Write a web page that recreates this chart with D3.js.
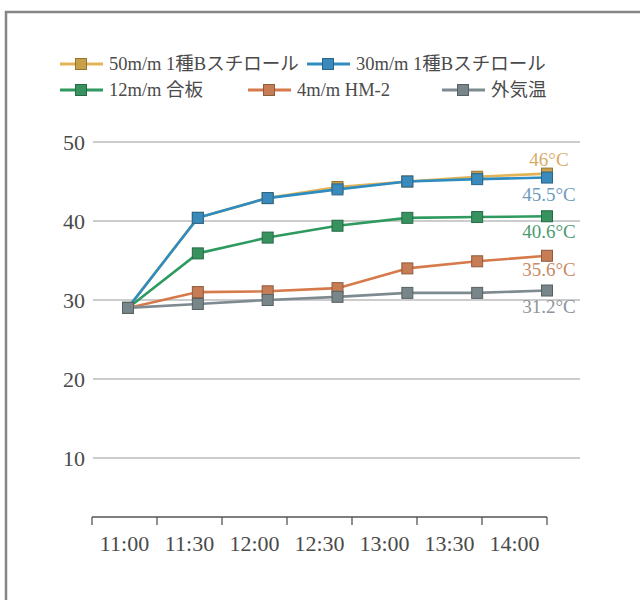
<!DOCTYPE html>
<html>
<head>
<meta charset="utf-8">
<script src="https://cdn.jsdelivr.net/npm/d3@7"></script>
<style>
  html, body { margin: 0; padding: 0; background: #fff; }
  svg { display: block; }
</style>
</head>
<body>
<svg id="chart" width="640" height="600"></svg>
<script>
// Time of day (x categories)
const times = ["11:00", "11:30", "12:00", "12:30", "13:00", "13:30", "14:00"];

// Temperature readings (°C) for each insulation material
const eps50 = [29, 40.4, 42.9, 44.3, 45.0, 45.6, 46];
const eps30 = [29, 40.4, 42.9, 44.0, 45.0, 45.3, 45.5];
const plywood12 = [29, 35.9, 37.9, 39.4, 40.4, 40.5, 40.6];
const hm4 = [29, 31.0, 31.1, 31.5, 34.0, 34.9, 35.6];
const outdoor = [29, 29.5, 30.0, 30.4, 30.9, 30.9, 31.2];

// Series names shown in the legend
const seriesNames = ["50m/m 1種Bスチロール", "30m/m 1種Bスチロール", "12m/m 合板", "4m/m HM-2", "外気温"];

// Y-axis tick values
const yTicks = [10, 20, 30, 40, 50];

const series = [
  { name: seriesNames[0], values: eps50, line: "#e3b457", mark: "#c9a04a", labelColor: "#d9ac6a", dy: -14 },
  { name: seriesNames[1], values: eps30, line: "#2f8cc0", mark: "#3a8bbb", labelColor: "#6f9cbc", dy: 17 },
  { name: seriesNames[2], values: plywood12, line: "#2e9a5f", mark: "#37925f", labelColor: "#4f9a70", dy: 15 },
  { name: seriesNames[3], values: hm4, line: "#d67a4c", mark: "#c67c54", labelColor: "#c98b66", dy: 14 },
  { name: seriesNames[4], values: outdoor, line: "#7d8b91", mark: "#788589", labelColor: "#8e9499", dy: 16 }
];

const svg = d3.select("#chart");
const serif = "'Liberation Serif', 'Noto Sans CJK JP', serif";
const textColor = "#4a4a4a";

// Outer frame
svg.append("rect")
  .attr("x", 6).attr("y", 12)
  .attr("width", 700).attr("height", 700)
  .attr("fill", "none")
  .attr("stroke", "#858585")
  .attr("stroke-width", 2.5);

// Scales
const y = d3.scaleLinear().domain([0, 50]).range([537, 142]);
const xBand = d3.scaleBand().domain(times).range([92, 547]);
const xPt = d3.scalePoint().domain(times).range([128, 547]);

// Horizontal gridlines with value labels
const grid = svg.append("g");
grid.selectAll("line").data(yTicks).join("line")
  .attr("x1", 93).attr("x2", 580)
  .attr("y1", d => y(d)).attr("y2", d => y(d))
  .attr("stroke", "#9a9a9a").attr("stroke-width", 1.2);
grid.selectAll("text").data(yTicks).join("text")
  .attr("x", 85).attr("y", d => y(d))
  .attr("dy", "0.35em")
  .attr("text-anchor", "end")
  .attr("font-family", serif)
  .attr("font-size", 22)
  .attr("fill", textColor)
  .text(d => d);

// X axis: ticks at band edges, labels centred in each band
const xAxisY = 517;
const xa = svg.append("g");
xa.append("line")
  .attr("x1", xBand.range()[0]).attr("x2", xBand.range()[1])
  .attr("y1", xAxisY).attr("y2", xAxisY)
  .attr("stroke", "#555").attr("stroke-width", 1.3);
const edges = times.map(t => xBand(t)).concat([xBand.range()[1]]);
xa.selectAll("line.tick").data(edges).join("line")
  .attr("class", "tick")
  .attr("x1", d => d).attr("x2", d => d)
  .attr("y1", xAxisY).attr("y2", xAxisY + 8)
  .attr("stroke", "#555").attr("stroke-width", 1.3);
xa.selectAll("text").data(times).join("text")
  .attr("x", d => xBand(d) + xBand.bandwidth() / 2)
  .attr("y", 551)
  .attr("text-anchor", "middle")
  .attr("font-family", serif)
  .attr("font-size", 22)
  .attr("fill", textColor)
  .text(d => d);

// Lines and square markers (later series drawn on top)
const lineGen = d3.line()
  .x((d, i) => xPt(times[i]))
  .y(d => y(d));

const plot = svg.append("g");
series.forEach(s => {
  const g = plot.append("g");
  g.append("path")
    .attr("d", lineGen(s.values))
    .attr("fill", "none")
    .attr("stroke", s.line)
    .attr("stroke-width", 2.6)
    .attr("stroke-linejoin", "round");
  g.selectAll("rect").data(s.values).join("rect")
    .attr("x", (d, i) => xPt(times[i]) - 5.5)
    .attr("y", d => y(d) - 5.5)
    .attr("width", 11).attr("height", 11)
    .attr("fill", s.mark)
    .attr("stroke", d3.color(s.mark).darker(0.9))
    .attr("stroke-width", 1);
});

// End-value labels, taken from each series' last reading
svg.append("g").selectAll("text").data(series).join("text")
  .attr("x", xPt(times[times.length - 1]) + 2)
  .attr("y", d => y(d.values[d.values.length - 1]) + d.dy)
  .attr("dy", "0.35em")
  .attr("text-anchor", "middle")
  .attr("font-family", serif)
  .attr("font-size", 19)
  .attr("fill", d => d.labelColor)
  .text(d => d.values[d.values.length - 1] + "°C");

// Legend
const legendPos = [
  { x: 60, y: 64 }, { x: 307, y: 64 },
  { x: 60, y: 90 }, { x: 248, y: 90 }, { x: 442, y: 90 }
];
const legend = svg.append("g");
series.forEach((s, i) => {
  const p = legendPos[i];
  const g = legend.append("g").attr("transform", `translate(${p.x},${p.y})`);
  g.append("line")
    .attr("x1", 0).attr("x2", 43)
    .attr("y1", 0).attr("y2", 0)
    .attr("stroke", s.line).attr("stroke-width", 3);
  g.append("rect")
    .attr("x", 15.5).attr("y", -5.5)
    .attr("width", 11).attr("height", 11)
    .attr("fill", s.mark)
    .attr("stroke", d3.color(s.mark).darker(0.9))
    .attr("stroke-width", 1);
  g.append("text")
    .attr("x", 49).attr("y", 0)
    .attr("dy", "0.35em")
    .attr("font-family", serif)
    .attr("font-size", 18.5)
    .attr("fill", textColor)
    .text(s.name);
});
</script>
</body>
</html>
